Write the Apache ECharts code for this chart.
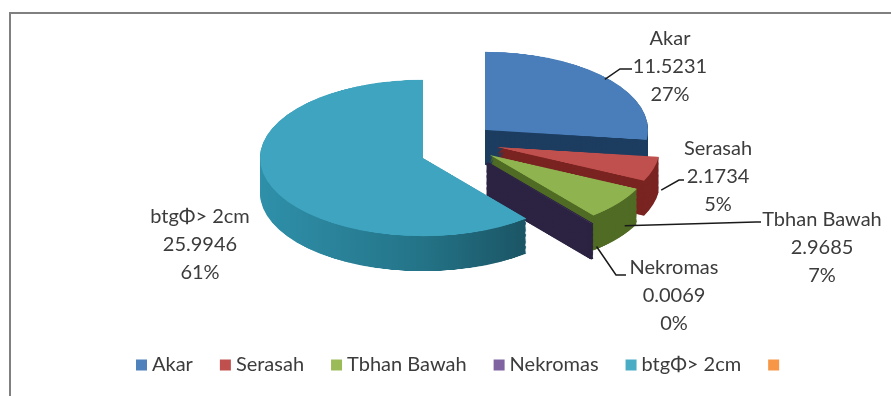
<!DOCTYPE html>
<html><head><meta charset="utf-8">
<script src="https://cdn.jsdelivr.net/npm/echarts@6/dist/echarts.min.js"></script>
<style>
html,body{margin:0;padding:0;background:#fff;width:891px;height:396px;overflow:hidden;}
#frame{position:absolute;left:9px;top:12px;width:900px;height:400px;border-top:2px solid #808080;border-left:2px solid #808080;}
#pie{position:absolute;left:0;top:0;width:891px;height:760px;transform-origin:0 0;}
#chart{position:absolute;left:0;top:0;width:891px;height:396px;}
</style></head><body>
<div id="frame"></div>
<div id="pie"></div>
<div id="chart"></div>
<script>
// ---- data ----
const categories = ['Akar', 'Serasah', 'Tbhan Bawah', 'Nekromas', 'btgΦ> 2cm', ' '];
const values = [11.5231, 2.1734, 2.9685, 0.0069, 25.9946, null];

// ---- styles / layout ----
const topColors = ['#4a7ebb', '#c0504d', '#8fb34f', '#8064a2', '#3fa4bf', '#f79646'];
const sideColors = ['#1d3d60', '#7a2422', '#506b24', '#2b2341', '#2a8199', '#a35a1f'];
const legendColors = ['#4f81bd', '#c0504d', '#9bbb59', '#8064a2', '#4bacc6', '#f79646'];
// explode shift of each slice (px, after squash)
const explodeShift = [[62, -28], [74, -11], [67, -3], [65, 5], [0, 0], [0, 0]];

const S = 0.48;          // vertical squash of the pie plane
const R = 163;           // horizontal radius (px)
const CX = 423, CY = 158;// pie centre after squash
const DEPTH = 35;        // extrusion height after squash
const STEP = 2.5;

// ---- 3D-looking pie (squashed canvas) ----
const pieDiv = document.getElementById('pie');
pieDiv.style.transform = 'scaleY(' + S + ')';
const pieChart = echarts.init(pieDiv, null, {renderer: 'canvas'});
const depthPre = DEPTH / S;

function sliceSeries(k, dy, side) {
  const data = categories.map((name, i) => {
    if (i !== k) return {name: name, value: values[i], itemStyle: {color: 'rgba(0,0,0,0)', borderWidth: 0}};
    let color = side ? sideColors[i] : topColors[i];
    if (side && i === 4) {
      color = new echarts.graphic.LinearGradient(0, 0, 1, 0, [
        {offset: 0, color: '#2f90aa'}, {offset: 0.6, color: '#247488'}, {offset: 1, color: '#1b5565'}
      ]);
    }
    const st = {color: color, borderWidth: 0};
    if (side && i === 3) { st.borderWidth = 3.5; st.borderColor = sideColors[i]; st.borderJoin = 'round'; }
    return {name: name, value: values[i], itemStyle: st};
  });
  return {
    type: 'pie',
    center: [CX + explodeShift[k][0], (CY + explodeShift[k][1]) / S + dy],
    radius: [0, R], startAngle: 90, clockwise: true,
    label: {show: false}, labelLine: {show: false},
    emphasis: {disabled: true}, silent: true, animation: false,
    data: data
  };
}
const pieSeriesList = [];
const drawOrder = [4, 0, 1, 2, 3];
for (let t = depthPre; t > 0; t -= STEP) {
  drawOrder.forEach(k => pieSeriesList.push(sliceSeries(k, t, true)));
}
drawOrder.forEach(k => pieSeriesList.push(sliceSeries(k, 0, false)));
pieChart.setOption({animation: false, series: pieSeriesList});

// ---- labels + legend (unsquashed) ----
const total = values.reduce((a, v) => a + (v == null ? 0 : v), 0);
const midAngles = [];
(function () {
  let a = 90;
  values.forEach(v => {
    const span = (v == null ? 0 : v) / total * 360;
    midAngles.push(a - span / 2);
    a -= span;
  });
})();

// label placement: centre x, middle-line y, leader end x/y, tail length
const labelCfg = [
  {x: 670, y: 67, ex: 632, ey: 69, tail: 12},
  {x: 718, y: 177, ex: 684, ey: 180, tail: 5},
  {x: 822, y: 248, ex: 761, ey: 222, tail: 5},
  {x: 674, y: 296, ex: 626, ey: 275, tail: 10},
  {x: 200, y: 245},
  {x: 0, y: 0}
];

function anchor(i) {
  const th = midAngles[i] * Math.PI / 180;
  const below = Math.sin(th) < 0;
  const r = R * (below ? 1.05 : 0.98);
  const x = CX + explodeShift[i][0] + r * Math.cos(th);
  let y = CY + explodeShift[i][1] - r * S * Math.sin(th);
  if (below) y += 20;
  return [x, y];
}

const chart = echarts.init(document.getElementById('chart'));
chart.setOption({
  animation: false,
  legend: {
    left: 131, top: 350, itemWidth: 11, itemHeight: 11, itemGap: 27, icon: 'rect',
    selectedMode: false,
    textStyle: {fontFamily: 'Lato', fontSize: 20, color: '#3c3c3c'},
    data: categories.map((n, i) => ({name: n, itemStyle: {color: legendColors[i]}}))
  },
  series: [{
    type: 'pie', center: [CX, CY], radius: [0, 78],
    startAngle: 90, clockwise: true, percentPrecision: 0,
    silent: true, emphasis: {disabled: true},
    itemStyle: {color: 'rgba(0,0,0,0)', borderWidth: 0},
    label: {
      show: true, position: 'outside', formatter: '{b}\n{c}\n{d}%',
      fontFamily: 'Lato', fontSize: 20, lineHeight: 28, color: '#3c3c3c', align: 'center'
    },
    labelLine: {show: true, lineStyle: {color: '#1a1a1a', width: 1.5}},
    labelLayout: function (params) {
      const i = params.dataIndex;
      const c = labelCfg[i];
      const out = {x: c.x, y: c.y, align: 'center', verticalAlign: 'middle'};
      if (c.ex != null) {
        const a = anchor(i);
        out.labelLinePoints = [a, [c.ex - c.tail, c.ey], [c.ex, c.ey]];
      } else {
        out.labelLinePoints = [[c.x, c.y], [c.x, c.y], [c.x, c.y]];
      }
      return out;
    },
    data: categories.map((n, i) => ({
      name: n, value: values[i],
      label: {show: i < 5}, labelLine: {show: i < 4}
    }))
  }]
});
</script>
</body></html>
